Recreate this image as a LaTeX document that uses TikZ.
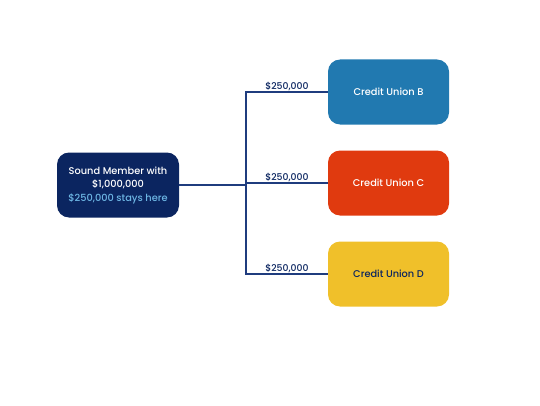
\documentclass[tikz,border=0pt]{standalone}
\usepackage{fontspec}
\setmainfont{Poppins Medium}
\definecolor{navy}{HTML}{0B2560}
\definecolor{linec}{HTML}{1F3C7E}
\definecolor{lightb}{HTML}{6DB6E4}
\definecolor{cub}{HTML}{2179B0}
\definecolor{cuc}{HTML}{E03A0F}
\definecolor{cud}{HTML}{F0C02A}
\begin{document}
\begin{tikzpicture}[x=1pt,y=1pt,
  box/.style={rounded corners=12pt,minimum width=121pt,minimum height=65pt,inner sep=0pt,align=center,font=\fontsize{9.8}{13.5}\selectfont},
  conn/.style={draw=linec,line width=1.4pt},
  amt/.style={font=\fontsize{9.3}{10}\selectfont,text=navy,anchor=south,inner sep=0.8pt}]
\useasboundingbox (0,0) rectangle (540,405);
\node[box,fill=navy,text=white,minimum width=122pt] (a) at (118,220) {Sound Member with\\\$1,000,000\\\textcolor{lightb}{\$250,000 stays here}};
\node[box,fill=cub,text=white] (b) at (388.5,313) {Credit Union B};
\node[box,fill=cuc,text=white] (c) at (388.5,222) {Credit Union C};
\node[box,fill=cud,text=navy] (d) at (388.5,131) {Credit Union D};
\coordinate (j) at (246,220);
\draw[conn] (a.east) -- (j);
\draw[conn] (b.west) -- node[amt]{\$250,000} (b.west -| j) -- (d.west -| j) -- (d.west);
\draw[conn] (c.west -| j) -- node[amt]{\$250,000} (c.west);
\path (d.west -| j) -- node[amt]{\$250,000} (d.west);
\end{tikzpicture}
\end{document}
